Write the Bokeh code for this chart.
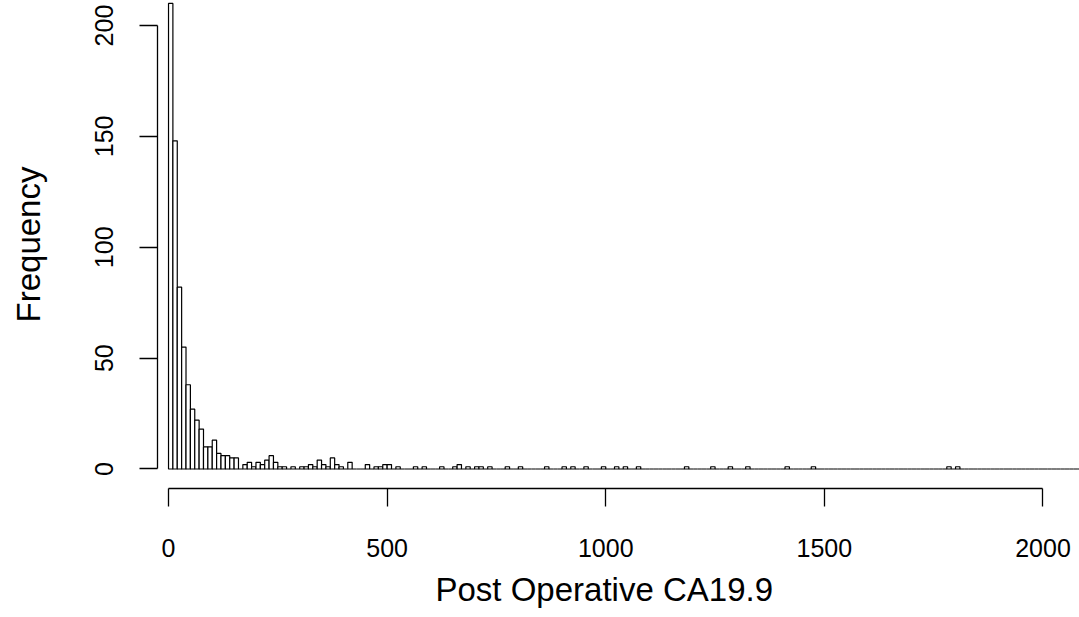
from bokeh.plotting import figure
from bokeh.models import Range1d, FixedTicker, ColumnDataSource, Title
from bokeh.embed import file_html
from bokeh.resources import INLINE

# Histogram of Post Operative CA19.9, bins of width 10 starting at 0
bin_width = 10
counts = [
    210, 148, 82, 55, 38, 27, 22, 18, 10, 10,   # 0-100
    13, 7, 6, 6, 5, 5, 0, 2, 3, 1,              # 100-200
    3, 2, 4, 6, 3, 1, 1, 0, 1, 0,               # 200-300
    1, 1, 2, 1, 4, 2, 1, 5, 2, 1,               # 300-400
    0, 3, 0, 0, 0, 2, 0, 1, 1, 2,               # 400-500
    2, 0, 1, 0, 0, 0, 1, 0, 1, 0,               # 500-600
    0, 0, 1, 0, 0, 1, 2, 0, 1, 0,               # 600-700
    1, 1, 0, 1, 0, 0, 0, 1, 0, 0,               # 700-800
    1, 0, 0, 0, 0, 0, 1, 0, 0, 0,               # 800-900
    1, 0, 1, 0, 0, 1, 0, 0, 0, 1,               # 900-1000
    0, 0, 1, 0, 1, 0, 0, 1, 0, 0,               # 1000-1100
    0, 0, 0, 0, 0, 0, 0, 0, 1, 0,               # 1100-1200
    0, 0, 0, 0, 1, 0, 0, 0, 1, 0,               # 1200-1300
    0, 0, 1, 0, 0, 0, 0, 0, 0, 0,               # 1300-1400
    0, 1, 0, 0, 0, 0, 0, 1, 0, 0,               # 1400-1500
    0, 0, 0, 0, 0, 0, 0, 0, 0, 0,               # 1500-1600
    0, 0, 0, 0, 0, 0, 0, 0, 0, 0,               # 1600-1700
    0, 0, 0, 0, 0, 0, 0, 0, 1, 0,               # 1700-1800
    1, 0, 0, 0, 0, 0, 0, 0, 0, 0,               # 1800-1900
    0, 0, 0, 0, 0, 0, 0, 0, 0, 0,               # 1900-2000
    0, 0, 0, 0, 0, 0, 0, 0, 0,                  # 2000-2090
]
x_ticks = [0, 500, 1000, 1500, 2000]
y_ticks = [0, 50, 100, 150, 200]
x_title = "Post Operative CA19.9"
y_title = "Frequency"

lefts = [i * bin_width for i in range(len(counts))]
rights = [l + bin_width for l in lefts]
src = ColumnDataSource(dict(left=lefts, right=rights, top=counts, bottom=[0] * len(counts)))

FONT = "Liberation Sans"

p = figure(width=1079, height=617, output_backend="svg", toolbar_location=None,
           x_range=Range1d(-25.2, 2083.5), y_range=Range1d(-8.8, 211.3),
           min_border_left=157, min_border_right=0, min_border_top=0, min_border_bottom=129)
p.outline_line_color = None
p.grid.visible = False
p.background_fill_color = "white"
p.border_fill_color = "white"

p.quad(left="left", right="right", top="top", bottom="bottom", source=src,
       fill_color="white", line_color="black", line_width=1.2)

xa = p.xaxis[0]
xa.ticker = FixedTicker(ticks=x_ticks)
xa.bounds = (x_ticks[0], x_ticks[-1])
ya = p.yaxis[0]
ya.ticker = FixedTicker(ticks=y_ticks)
ya.bounds = (y_ticks[0], y_ticks[-1])
ya.major_label_orientation = "vertical"

for ax in (xa, ya):
    ax.axis_line_color = "black"
    ax.axis_line_width = 1.3
    ax.major_tick_line_color = "black"
    ax.major_tick_line_width = 1.3
    ax.major_tick_out = 18
    ax.major_tick_in = 0
    ax.minor_tick_line_color = None
    ax.major_label_text_font = FONT
    ax.major_label_text_font_size = "25px"
    ax.major_label_text_color = "black"

xa.major_label_standoff = 32
ya.major_label_standoff = 26

# y title as the axis label
ya.axis_label = y_title
ya.axis_label_text_font = FONT
ya.axis_label_text_font_size = "33px"
ya.axis_label_text_font_style = "normal"
ya.axis_label_text_color = "black"
ya.axis_label_standoff = 46

# x title as a below-title so it can be shifted along the axis
xt = Title(text=x_title, align="left", offset=278, standoff=18, vertical_align="bottom",
           text_font=FONT, text_font_size="33px", text_font_style="normal", text_color="black")
p.add_layout(xt, "below")

open("out.html", "w").write(file_html(p, INLINE))
